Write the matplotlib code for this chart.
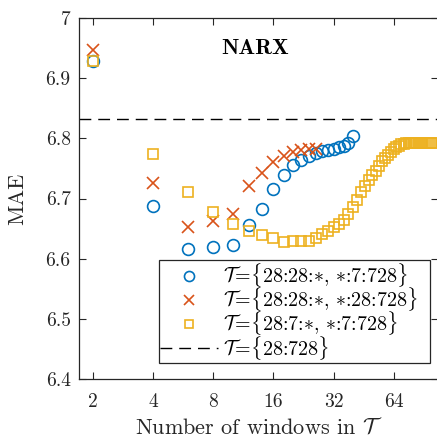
import matplotlib
matplotlib.use("Agg")
import matplotlib.pyplot as plt
import numpy as np

plt.rcParams["font.family"] = ["cmr10", "DejaVu Serif"]
plt.rcParams["mathtext.fontset"] = "cm"
plt.rcParams["axes.formatter.use_mathtext"] = True

# Number of windows (x) and MAE (y) for each window configuration
n_circ = [2, 4, 6, 8, 10, 12, 14, 16, 18, 20, 22, 24, 26, 28, 30, 32, 34, 36, 38, 40]
mae_circ = [6.929, 6.688, 6.616, 6.619, 6.623, 6.656, 6.683, 6.716, 6.739, 6.755,
            6.764, 6.771, 6.776, 6.779, 6.781, 6.783, 6.785, 6.787, 6.792, 6.804]

n_cross = [2, 4, 6, 8, 10, 12, 14, 16, 18, 20, 22, 24, 26]
mae_cross = [6.947, 6.725, 6.652, 6.663, 6.675, 6.721, 6.742, 6.760, 6.771, 6.777,
             6.780, 6.782, 6.783]

n_sq = list(range(2, 101, 2))
mae_sq = [6.929, 6.774, 6.711, 6.678, 6.657, 6.646, 6.639, 6.635, 6.628, 6.630,
          6.630, 6.630, 6.634, 6.641, 6.646, 6.652, 6.657, 6.665, 6.674, 6.686,
          6.698, 6.710, 6.721, 6.731, 6.739, 6.746, 6.754, 6.762, 6.768, 6.773,
          6.777, 6.782, 6.785, 6.788, 6.790, 6.791, 6.792, 6.792, 6.792, 6.793,
          6.793, 6.793, 6.793, 6.793, 6.793, 6.793, 6.793, 6.793, 6.793, 6.793]

baseline_mae = 6.832

xticks = [2, 4, 8, 16, 32, 64]
yticks = [6.4, 6.5, 6.6, 6.7, 6.8, 6.9, 7.0]
ytick_labels = ["6.4", "6.5", "6.6", "6.7", "6.8", "6.9", "7"]

labels = [
    r"$\mathcal{T}\!=\!\{$28:28:$\ast$, $\ast$:7:728$\}$",
    r"$\mathcal{T}\!=\!\{$28:28:$\ast$, $\ast$:28:728$\}$",
    r"$\mathcal{T}\!=\!\{$28:7:$\ast$, $\ast$:7:728$\}$",
    r"$\mathcal{T}\!=\!\{$28:728$\}$",
]

blue = (0.0, 0.447, 0.741)
red = (0.850, 0.325, 0.098)
yellow = (0.929, 0.694, 0.125)

fig = plt.figure(figsize=(4.37, 4.40), dpi=100)
ax = fig.add_axes([79 / 437, 1 - 379 / 440, 1.002 - 79 / 437, (379 - 18) / 440])

h1, = ax.plot(n_circ, mae_circ, linestyle="none", marker="o", ms=8.5,
              mfc="none", mec=blue, mew=1.2)
h2, = ax.plot(n_cross, mae_cross, linestyle="none", marker="x", ms=8.5,
              color=red, mew=1.2)
h3, = ax.plot(n_sq, mae_sq, linestyle="none", marker="s", ms=7.5,
              mfc="none", mec=yellow, mew=1.2)
h4 = ax.axhline(baseline_mae, color="black", linestyle=(0, (8.5, 5)), lw=1.0)

ax.set_xscale("log", base=2)
ax.set_xlim(1.70, 106.5)
ax.set_ylim(6.4, 7.0)
ax.set_xticks(xticks)
ax.set_xticklabels([str(t) for t in xticks])
ax.xaxis.set_minor_locator(matplotlib.ticker.NullLocator())
ax.set_yticks(yticks)
ax.set_yticklabels(ytick_labels)

ax.tick_params(direction="in", length=5, width=0.8, colors="#262626",
               labelsize=14, top=True, right=True)
ax.tick_params(axis="x", pad=10)
ax.tick_params(axis="y", pad=6)
for tl in ax.get_xticklabels() + ax.get_yticklabels():
    tl.set_color("#262626")
for sp in ax.spines.values():
    sp.set_color("#262626")
    sp.set_linewidth(0.9)

ax.set_xlabel(r"Number of windows in $\mathcal{T}$", fontsize=16, color="#262626",
              labelpad=4)
ax.set_ylabel("MAE", fontsize=16, color="#262626", labelpad=13)

ax.text(0.49, 0.915, "NARX", transform=ax.transAxes, ha="center", va="center",
        fontsize=16, family="cmb10", color="black")

leg = ax.legend([h1, h2, h3, h4], labels, loc="upper left",
                bbox_to_anchor=(0.2235, 0.0, 0.754, 0.3296), mode="expand",
                fontsize=14.4, frameon=True,
                fancybox=False, edgecolor="#262626", framealpha=1,
                handlelength=2.9, handletextpad=0.25, borderpad=0.05,
                labelspacing=-0.19, borderaxespad=0, markerscale=0.85)
leg.get_frame().set_linewidth(0.9)

fig.savefig("out.png", dpi=100)
